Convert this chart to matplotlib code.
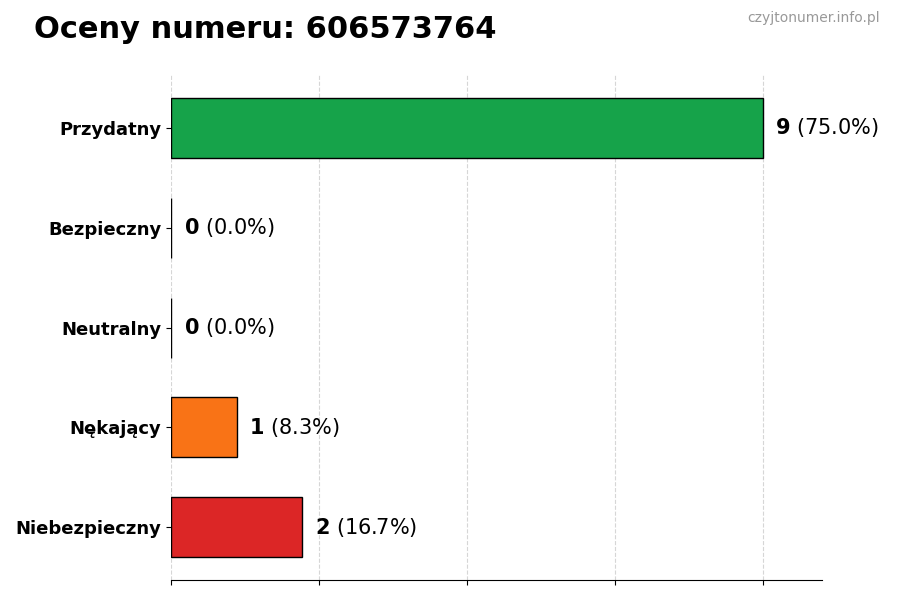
import matplotlib
matplotlib.use("Agg")
import matplotlib.pyplot as plt

categories = ["Przydatny", "Bezpieczny", "Neutralny", "Nękający", "Niebezpieczny"]
counts = [9, 0, 0, 1, 2]
percents = [75.0, 0.0, 0.0, 8.3, 16.7]
colors = ["#16a34a", "#22c55e", "#9ca3af", "#f97316", "#dc2626"]
title = "Oceny numeru: 606573764"
watermark = "czyjtonumer.info.pl"

fig = plt.figure(figsize=(9, 6), dpi=100)
ax = fig.add_axes([0.19, 0.033, 0.723, 0.842])

y = list(range(len(categories)))
ax.barh(y, counts, height=0.6, color=colors, edgecolor="black", linewidth=1, zorder=2)
ax.invert_yaxis()
xmax = max(counts) * 1.1
ax.set_xlim(0, xmax)
ax.set_xticks([xmax / 4.4 * i for i in range(5)])
ax.set_xticklabels([])
ax.set_yticks(y)
ax.set_yticklabels(categories, fontsize=13, fontweight="bold")
ax.grid(axis="x", linestyle="--", color="#bbbbbb", alpha=0.6, linewidth=0.8, zorder=3)
for s in ["top", "right", "left"]:
    ax.spines[s].set_visible(False)

for yi, c, p in zip(y, counts, percents):
    ax.annotate(f"$\\bf{{{c}}}$ ({p:.1f}%)", (c, yi), xytext=(9, 0),
                textcoords="offset points", va="center", ha="left", fontsize=15)

fig.text(0.038, 0.95, title, fontsize=22, fontweight="bold", va="center", ha="left")
fig.text(0.978, 0.97, watermark, fontsize=10, color="#999999", va="center", ha="right")

fig.savefig("out.png", dpi=100)
